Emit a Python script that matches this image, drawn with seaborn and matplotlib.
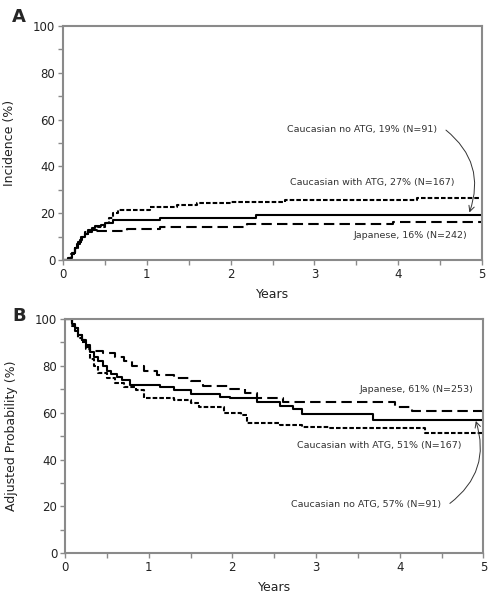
import numpy as np
import pandas as pd
import matplotlib
matplotlib.use("Agg")
import matplotlib.pyplot as plt
import seaborn as sns

sns.set_style("ticks")
plt.rcParams['font.family'] = ['DejaVu Sans']

# ===== Panel A: cumulative incidence (%) =====
a_noatg_years = [0, 0.08, 0.11, 0.14, 0.17, 0.2, 0.23, 0.26, 0.3, 0.34, 0.38, 0.45, 0.5, 0.6, 1.16, 2.3, 5.0]
a_noatg_inc = [0, 1, 3, 5, 7, 8.5, 10, 11, 12, 13.5, 14.5, 15, 16, 17.1, 18, 19.4, 19.4]

a_atg_years = [0, 0.05, 0.1, 0.14, 0.18, 0.22, 0.26, 0.3, 0.4, 0.5, 0.55, 0.6, 0.66, 1.04, 1.36, 1.6, 2.0, 2.65, 4.22, 5.0]
a_atg_inc = [0, 1, 2.5, 5, 7.5, 10, 12, 13, 14, 16, 18, 20, 21.4, 22.8, 23.5, 24.2, 24.8, 25.6, 26.6, 26.6]

a_jp_years = [0, 0.06, 0.1, 0.14, 0.18, 0.22, 0.26, 0.3, 0.76, 1.16, 2.2, 3.94, 5.0]
a_jp_inc = [0, 1, 3, 5, 7.5, 9.5, 11, 12.2, 13.2, 14.2, 15.2, 16.4, 16.4]

# ===== Panel B: adjusted probability (%) =====
b_noatg_years = [0, 0.08, 0.12, 0.16, 0.2, 0.25, 0.3, 0.35, 0.4, 0.45, 0.5, 0.55, 0.62, 0.68, 0.78,
                 1.14, 1.3, 1.5, 1.85, 1.97, 2.29, 2.57, 2.73, 2.83, 3.68, 5.0]
b_noatg_prob = [100, 98, 96, 93, 91, 88, 86, 84, 82, 80, 78, 76.5, 75.4, 74, 72,
                70.9, 69.7, 68, 66.9, 66.2, 64.7, 62.9, 61.5, 59.6, 56.9, 56.9]

b_atg_years = [0, 0.08, 0.12, 0.16, 0.2, 0.25, 0.3, 0.35, 0.4, 0.5, 0.6, 0.7, 0.85, 0.95, 1.3, 1.5,
               1.6, 1.9, 2.1, 2.17, 2.57, 2.83, 3.15, 4.3, 5.0]
b_atg_prob = [100, 97, 95, 92, 90, 87, 83, 80, 77, 75, 72.6, 71, 69.5, 66.5, 65.5, 64,
              62.5, 60, 59, 55.8, 54.7, 54, 53.3, 51.2, 51.2]

b_jp_years = [0, 0.08, 0.12, 0.16, 0.2, 0.25, 0.3, 0.45, 0.6, 0.7, 0.8, 0.95, 1.1, 1.3, 1.5, 1.65,
              1.95, 2.15, 2.3, 2.6, 3.95, 4.15, 5.0]
b_jp_prob = [100, 98, 96, 93, 91, 89, 86.5, 85.5, 84, 82, 80, 78, 76, 75, 73.5, 71.5,
             70, 68.3, 66.5, 64.5, 62.5, 60.6, 60.6]

groups = ['Caucasian no ATG', 'Caucasian with ATG', 'Japanese']
dash_map = {'Caucasian no ATG': '', 'Caucasian with ATG': (2.2, 1.0), 'Japanese': (5, 2.5)}


def to_long(series, value_name):
    frames = []
    for name, (x, y) in zip(groups, series):
        frames.append(pd.DataFrame({'years': x, value_name: y, 'group': name}))
    return pd.concat(frames, ignore_index=True)


df_a = to_long([(a_noatg_years, a_noatg_inc), (a_atg_years, a_atg_inc), (a_jp_years, a_jp_inc)], 'value')
df_b = to_long([(b_noatg_years, b_noatg_prob), (b_atg_years, b_atg_prob), (b_jp_years, b_jp_prob)], 'value')

fig = plt.figure(figsize=(4.97, 6.0), dpi=100)
ax1 = fig.add_axes([0.1268, 0.5667, 0.843, 0.39])
ax2 = fig.add_axes([0.1308, 0.0778, 0.8417, 0.3905])

spine_col = '#8a8a8a'
txt_col = '#333333'

for ax, df, ylab in [(ax1, df_a, 'Incidence (%)'), (ax2, df_b, 'Adjusted Probability (%)')]:
    sns.lineplot(data=df, x='years', y='value', style='group', dashes=dash_map,
                 color='black', linewidth=1.5, drawstyle='steps-post',
                 estimator=None, legend=False, ax=ax)
    ax.set_xlim(0, 5)
    ax.set_ylim(0, 100)
    ax.set_xticks(range(0, 6))
    ax.set_xticks(np.arange(0.5, 5, 1), minor=True)
    ax.set_yticks(range(0, 101, 20))
    ax.set_yticks(range(10, 100, 20), minor=True)
    for s in ax.spines.values():
        s.set_color(spine_col)
        s.set_linewidth(1.5)
    ax.tick_params(which='both', direction='out', length=3.5, width=1,
                   color=spine_col, labelsize=8.5, labelcolor='#222222', pad=2)
    ax.set_xlabel('Years', fontsize=9, color='#222222', labelpad=5)
    ax.set_ylabel(ylab, fontsize=9, color='#222222')
    ax.yaxis.set_label_coords(-0.113, 0.5)

fig.text(0.024, 0.972, 'A', fontsize=13, fontweight='bold', va='center', ha='left')
fig.text(0.024, 0.473, 'B', fontsize=13, fontweight='bold', va='center', ha='left')

fs = 6.8
# Panel A annotations
ax1.text(4.46, 55.6, 'Caucasian no ATG, 19% (N=91)', fontsize=fs, color=txt_col, ha='right', va='center')
ax1.annotate('', xy=(4.85, 20.3), xytext=(4.57, 55.5),
             arrowprops=dict(arrowstyle='->', color=txt_col, lw=0.7,
                             connectionstyle='arc3,rad=-0.35', shrinkA=0, shrinkB=0))
ax1.text(3.69, 32.9, 'Caucasian with ATG, 27% (N=167)', fontsize=fs, color=txt_col, ha='center', va='center')
ax1.text(4.14, 10.3, 'Japanese, 16% (N=242)', fontsize=fs, color=txt_col, ha='center', va='center')

# Panel B annotations
ax2.text(4.2, 70.1, 'Japanese, 61% (N=253)', fontsize=fs, color=txt_col, ha='center', va='center')
ax2.text(3.75, 45.9, 'Caucasian with ATG, 51% (N=167)', fontsize=fs, color=txt_col, ha='center', va='center')
ax2.text(4.5, 21.0, 'Caucasian no ATG, 57% (N=91)', fontsize=fs, color=txt_col, ha='right', va='center')
ax2.annotate('', xy=(4.91, 56.5), xytext=(4.6, 21.3),
             arrowprops=dict(arrowstyle='->', color=txt_col, lw=0.7,
                             connectionstyle='arc3,rad=0.35', shrinkA=0, shrinkB=0))

plt.savefig('out.png', dpi=100)
